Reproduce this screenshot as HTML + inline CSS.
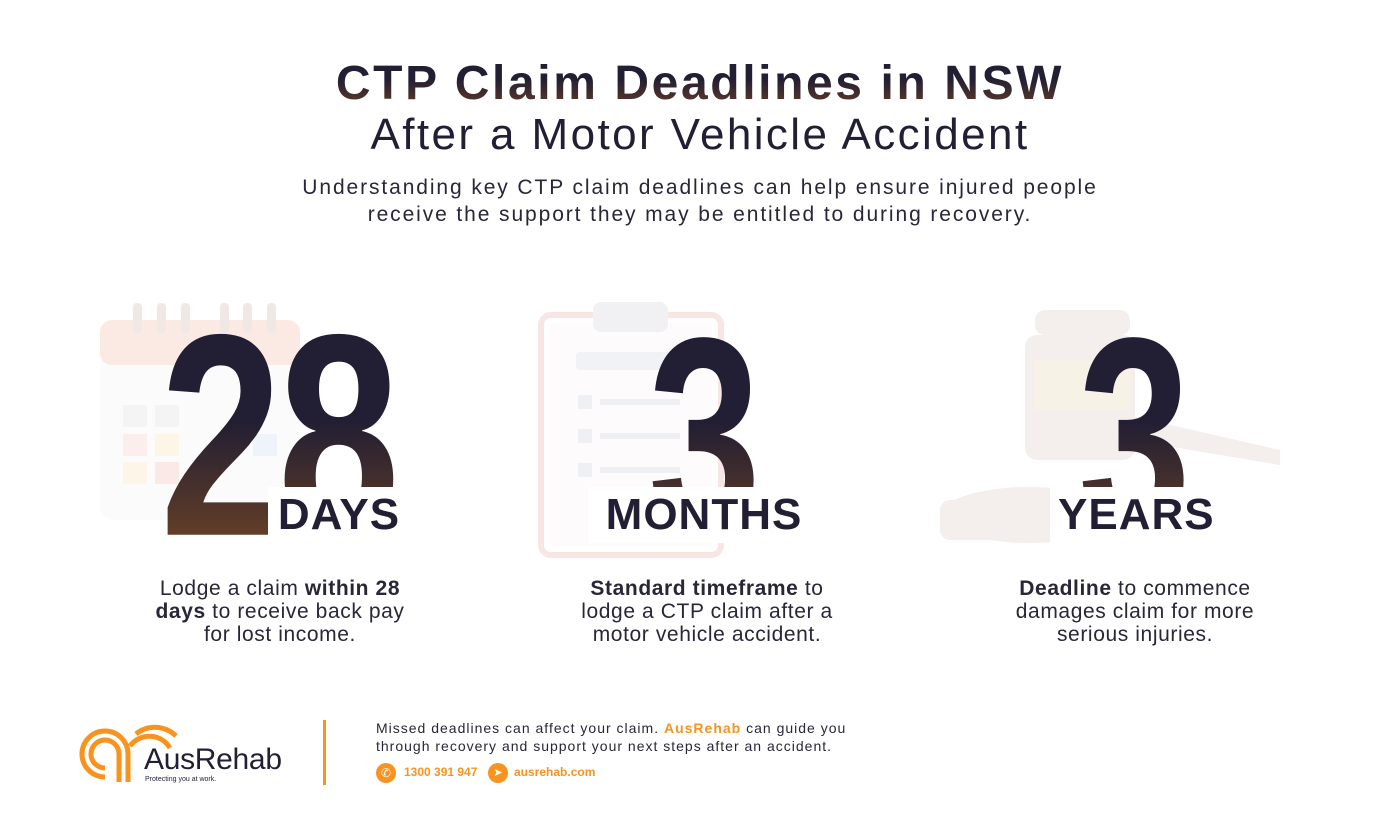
<!DOCTYPE html>
<html><head><meta charset="utf-8"><style>
*{margin:0;padding:0;box-sizing:border-box}
body{width:1400px;height:836px;background:#fff;position:relative;overflow:hidden;font-family:"Liberation Sans",sans-serif;color:#221e33}
.abs{position:absolute}
.c{text-align:center}
.grad{background:linear-gradient(180deg,#221e33 0%,#221e33 45%,#7a4a22 100%);-webkit-background-clip:text;background-clip:text;color:transparent}
.big{font-weight:bold;font-size:282px;line-height:1;letter-spacing:-6px;transform-origin:left top}
.lbl{background:#fff;font-weight:bold;font-size:44px;line-height:56px;padding:0 8px;letter-spacing:1px;text-align:center}
.desc{font-size:21px;line-height:23px;color:#2a2638;width:280px;letter-spacing:0.6px}
</style></head><body>
<div class="abs c grad" style="left:0;width:1400px;top:56px;font-size:48px;font-weight:bold;line-height:56px;letter-spacing:2.6px;background:linear-gradient(180deg,#221e33 40%,#6b4028 100%);-webkit-background-clip:text;background-clip:text">CTP Claim Deadlines in NSW</div>
<div class="abs c" style="left:0;width:1400px;top:109px;font-size:44px;line-height:52px;color:#221e33;letter-spacing:2.4px">After a Motor Vehicle Accident</div>
<div class="abs c" style="left:0;width:1400px;top:174px;font-size:21px;line-height:27px;color:#2a2638;letter-spacing:1.9px">Understanding key CTP claim deadlines can help ensure injured people<br>receive the support they may be entitled to during recovery.</div>

<svg class="abs" style="left:95px;top:295px" width="220" height="230">
<rect x="5" y="25" width="200" height="200" rx="14" fill="#f8f8f8" opacity=".6"/>
<rect x="5" y="25" width="200" height="45" rx="12" fill="#fbeae4"/>
<g fill="#efe8e5"><rect x="38" y="8" width="9" height="30" rx="4"/><rect x="62" y="8" width="9" height="30" rx="4"/><rect x="86" y="8" width="9" height="30" rx="4"/><rect x="125" y="8" width="9" height="30" rx="4"/><rect x="148" y="8" width="9" height="30" rx="4"/><rect x="172" y="8" width="9" height="30" rx="4"/></g>
<g><rect x="28" y="110" width="24" height="22" fill="#f4f4f4"/><rect x="28" y="139" width="24" height="22" fill="#fbeeec"/><rect x="28" y="167" width="24" height="22" fill="#fdf6e8"/><rect x="60" y="110" width="24" height="22" fill="#f4f4f4"/><rect x="60" y="139" width="24" height="22" fill="#fdf6e6"/><rect x="60" y="167" width="24" height="22" fill="#fbe9e7"/><rect x="158" y="139" width="24" height="22" fill="#eef4fa"/></g>
</svg>
<svg class="abs" style="left:538px;top:297px" width="190" height="262">
<rect x="3" y="18" width="180" height="240" rx="10" fill="none" stroke="#f7e6e4" stroke-width="6"/>
<rect x="12" y="26" width="162" height="224" fill="#fdfbfb"/>
<rect x="55" y="5" width="75" height="30" rx="8" fill="#f1f1f3"/>
<rect x="38" y="55" width="110" height="18" rx="4" fill="#f1f2f5"/>
<g fill="#eef0f3"><rect x="40" y="98" width="14" height="14"/><rect x="62" y="102" width="80" height="6"/><rect x="40" y="132" width="14" height="14"/><rect x="62" y="136" width="80" height="6"/><rect x="40" y="166" width="14" height="14"/><rect x="62" y="170" width="80" height="6"/></g>
</svg>
<svg class="abs" style="left:935px;top:300px" width="360" height="250">
<g fill="#f4efec">
<ellipse cx="95" cy="215" rx="90" ry="28"/>
<rect x="5" y="200" width="180" height="40" rx="10"/>
<polygon points="170,110 345,150 345,165 165,135"/>
<rect x="100" y="10" width="95" height="25" rx="10"/>
<rect x="90" y="35" width="110" height="125" rx="12"/>
</g>
<rect x="100" y="60" width="95" height="50" fill="#f7f2e6"/>
</svg>

<div class="abs big grad" style="left:160px;top:292px;transform:scaleX(0.78) scaleY(1.02)">28</div>
<div class="abs lbl" style="left:268px;top:487px;color:#221e33;width:142px">DAYS</div>
<div class="abs big grad" style="left:648px;top:296px;transform:scaleX(0.72)">3</div>
<div class="abs lbl" style="left:588px;top:487px;color:#221e33;width:232px">MONTHS</div>
<div class="abs big grad" style="left:1078px;top:296px;transform:scaleX(0.72)">3</div>
<div class="abs lbl" style="left:1050px;top:487px;color:#221e33;width:170px">YEARS</div>

<div class="abs c desc" style="left:140px;top:577px">Lodge a claim <b>within 28 days</b> to receive back pay for lost income.</div>
<div class="abs c desc" style="left:567px;top:577px"><b>Standard timeframe</b> to lodge a CTP claim after a motor vehicle accident.</div>
<div class="abs c desc" style="left:995px;top:577px"><b>Deadline</b> to commence damages claim for more serious injuries.</div>

<svg class="abs" style="left:78px;top:718px" width="100" height="70">
<g fill="none" stroke="#f7931e" stroke-width="5">
<path d="M50 64 V36 A23 23 0 1 0 27 59"/>
<path d="M41 64 V36 A14 14 0 1 0 27 50"/>
<path d="M52 28 A24 24 0 0 1 92 30"/>
<path d="M58 16 A30 30 0 0 1 98 18"/>
</g>
</svg>
<div class="abs" style="left:144px;top:743px;font-size:30px;color:#221e33;letter-spacing:-0.3px">AusRehab</div>
<div class="abs" style="left:145px;top:776px;font-size:7px;color:#221e33">Protecting you at work.</div>
<div class="abs" style="left:323px;top:720px;width:3px;height:65px;background:#f7931e"></div>
<div class="abs" style="left:376px;top:719px;font-size:14px;line-height:18px;color:#2a2638;letter-spacing:1px">Missed deadlines can affect your claim. <b style="color:#f7931e">AusRehab</b> can guide you<br>through recovery and support your next steps after an accident.</div>
<div class="abs" style="left:376px;top:763px;width:20px;height:20px;border-radius:50%;background:#f7931e;color:#fff;font-size:12px;text-align:center;line-height:20px">✆</div>
<div class="abs" style="left:404px;top:765px;font-size:12px;font-weight:bold;color:#f7931e">1300 391 947</div>
<div class="abs" style="left:488px;top:763px;width:20px;height:20px;border-radius:50%;background:#f7931e;color:#fff;font-size:11px;text-align:center;line-height:20px">➤</div>
<div class="abs" style="left:514px;top:765px;font-size:12px;font-weight:bold;color:#f7931e">ausrehab.com</div>
</body></html>
